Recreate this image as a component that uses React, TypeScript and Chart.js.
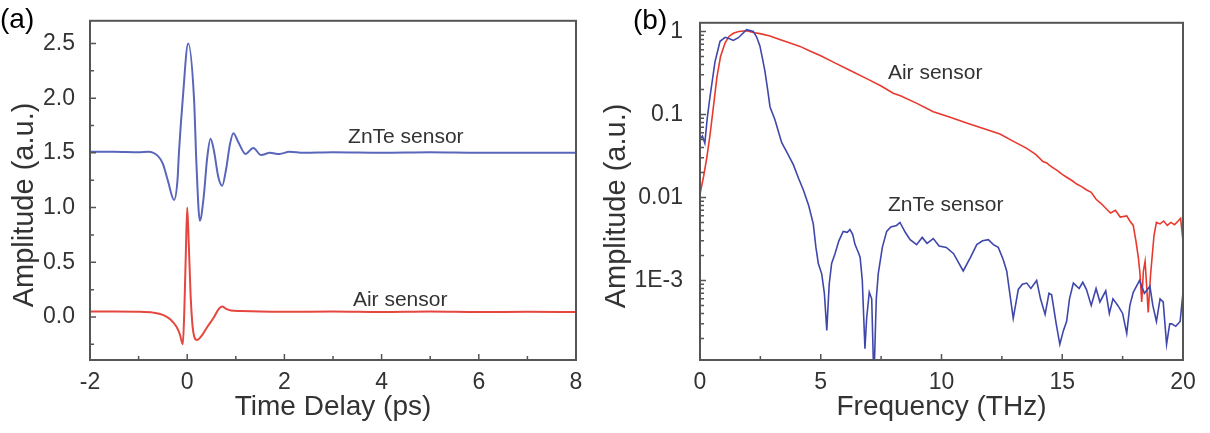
import React, { useEffect, useRef } from "react";
import { Chart, registerables } from "chart.js";
Chart.register(...registerables);

// ---------- Panel (a): time domain ----------
const znteTimeX = [-2, -1.5, -1.0, -0.8, -0.6, -0.5, -0.4, -0.27, -0.2, -0.17, -0.09, 0.02, 0.14, 0.19, 0.26, 0.34, 0.41, 0.48, 0.55, 0.64, 0.72, 0.8, 0.88, 0.95, 1.05, 1.2, 1.36, 1.52, 1.7, 1.9, 2.1, 2.4, 3, 4, 5, 6, 7, 8];
const znteTimeY = [1.51, 1.51, 1.505, 1.51, 1.47, 1.4, 1.25, 1.07, 1.25, 1.5, 2.0, 2.5, 2.0, 1.4, 0.88, 1.1, 1.45, 1.63, 1.52, 1.28, 1.2, 1.35, 1.58, 1.68, 1.6, 1.49, 1.545, 1.48, 1.5, 1.49, 1.51, 1.5, 1.505, 1.5, 1.505, 1.5, 1.5, 1.5];
const airTimeX = [-2, -1.5, -1.0, -0.7, -0.5, -0.35, -0.22, -0.15, -0.09, -0.06, -0.03, 0.0, 0.03, 0.07, 0.12, 0.2, 0.3, 0.4, 0.54, 0.65, 0.72, 0.8, 0.9, 1.1, 1.5, 2, 3, 4, 5, 6, 7, 8];
const airTimeY = [0.05, 0.05, 0.048, 0.04, 0.02, -0.02, -0.09, -0.16, -0.25, 0.05, 0.55, 1.0, 0.7, 0.2, -0.12, -0.21, -0.17, -0.1, -0.01, 0.075, 0.095, 0.075, 0.06, 0.055, 0.05, 0.048, 0.05, 0.045, 0.05, 0.045, 0.048, 0.045];
const timeTicks = [-2, 0, 2, 4, 6, 8];
const timeMinorTicks = [-1, 1, 3, 5, 7];
const ampTicks = [0, 0.5, 1.0, 1.5, 2.0, 2.5];
const ampMinorTicks = [-0.25, 0.25, 0.75, 1.25, 1.75, 2.25];

// ---------- Panel (b): frequency domain ----------
const airFreqX = [0, 0.15, 0.28, 0.41, 0.55, 0.7, 0.85, 1.04, 1.2, 1.38, 1.6, 1.93, 2.2, 2.48, 2.9, 3.3, 3.7, 4.14, 4.55, 5.0, 5.5, 6.2, 6.9, 7.5, 8.0, 8.3, 9.0, 9.66, 10.3, 11.04, 11.7, 12.42, 13.0, 13.53, 13.9, 14.2, 14.36, 14.5, 14.8, 15.0, 15.18, 15.4, 15.6, 15.8, 16.01, 16.2, 16.4, 16.6, 16.84, 17.0, 17.2, 17.4, 17.67, 17.8, 17.94, 18.05, 18.15, 18.22, 18.29, 18.36, 18.43, 18.5, 18.56, 18.65, 18.72, 18.8, 18.9, 19.05, 19.2, 19.35, 19.5, 19.65, 19.8, 19.9, 20.0];
const airFreqY = [0.011, 0.018, 0.03, 0.055, 0.12, 0.28, 0.5, 0.73, 0.87, 0.95, 1.0, 1.02, 0.97, 0.94, 0.88, 0.8, 0.73, 0.66, 0.58, 0.51, 0.43, 0.34, 0.27, 0.22, 0.18, 0.168, 0.135, 0.108, 0.094, 0.079, 0.068, 0.058, 0.047, 0.039, 0.033, 0.027, 0.026, 0.024, 0.021, 0.019, 0.0175, 0.016, 0.0145, 0.0135, 0.0123, 0.0115, 0.0095, 0.0085, 0.0072, 0.0065, 0.007, 0.0058, 0.006, 0.0052, 0.0046, 0.003, 0.0019, 0.0012, 0.00055, 0.0013, 0.0017, 0.0008, 0.00041, 0.0011, 0.0019, 0.0035, 0.005, 0.0048, 0.0052, 0.0046, 0.005, 0.0047, 0.0052, 0.0056, 0.003];
const znteFreqX = [0, 0.1, 0.2, 0.3, 0.41, 0.62, 0.83, 1.04, 1.2, 1.38, 1.59, 1.93, 2.21, 2.35, 2.48, 2.6, 2.69, 2.8, 2.9, 3.1, 3.38, 3.6, 3.86, 4.08, 4.28, 4.5, 4.69, 4.8, 4.9, 5.04, 5.15, 5.25, 5.35, 5.45, 5.59, 5.75, 5.93, 6.1, 6.21, 6.32, 6.42, 6.55, 6.63, 6.72, 6.83, 6.9, 7.01, 7.11, 7.2, 7.3, 7.38, 7.55, 7.73, 7.9, 8.14, 8.28, 8.5, 8.7, 8.97, 9.2, 9.4, 9.66, 9.9, 10.2, 10.5, 10.9, 11.2, 11.46, 11.7, 11.94, 12.15, 12.35, 12.55, 12.7, 12.97, 13.18, 13.35, 13.53, 13.7, 13.94, 14.1, 14.29, 14.45, 14.56, 14.75, 14.9, 15.05, 15.18, 15.3, 15.46, 15.7, 15.85, 16.0, 16.2, 16.4, 16.56, 16.8, 16.95, 17.1, 17.3, 17.5, 17.67, 17.8, 17.94, 18.2, 18.4, 18.63, 18.75, 18.9, 19.05, 19.18, 19.32, 19.45, 19.53, 19.7, 19.88, 19.99];
const znteFreqY = [0.05, 0.055, 0.045, 0.09, 0.16, 0.43, 0.76, 0.85, 0.82, 0.78, 0.84, 1.05, 1.0, 0.85, 0.67, 0.45, 0.33, 0.2, 0.123, 0.087, 0.046, 0.035, 0.025, 0.017, 0.0123, 0.008, 0.0048, 0.0025, 0.0016, 0.0012, 0.0007, 0.00025, 0.0009, 0.0016, 0.0021, 0.003, 0.0039, 0.0038, 0.0041, 0.0036, 0.0027, 0.0022, 0.0019, 0.001, 0.00015, 0.00035, 0.00072, 0.0006, 0.00006, 0.0006, 0.0012, 0.0025, 0.0039, 0.0044, 0.0046, 0.005, 0.0038, 0.0031, 0.0027, 0.0033, 0.0028, 0.0032, 0.0026, 0.0025, 0.0021, 0.0013, 0.0019, 0.0027, 0.003, 0.0031, 0.0027, 0.0025, 0.0018, 0.0013, 0.00035, 0.00078, 0.0009, 0.00093, 0.0008, 0.001, 0.0006, 0.00039, 0.0007, 0.00067, 0.0003, 0.00017, 0.00025, 0.00032, 0.0006, 0.00093, 0.0008, 0.00095, 0.00078, 0.0005, 0.0008, 0.00055, 0.00075, 0.0004, 0.0006, 0.0005, 0.0004, 0.00023, 0.0005, 0.00072, 0.001, 0.0007, 0.00085, 0.0005, 0.00032, 0.0006, 0.00055, 0.00017, 0.0003, 0.0003, 0.00028, 0.00032, 0.00067];
const freqTicks = [0, 5, 10, 15, 20];
const freqMinorTicks = [2.5, 7.5, 12.5, 17.5];
const logTicks = [0.001, 0.01, 0.1, 1];
const logTickLabels = ["1E-3", "0.01", "0.1", "1"];

const BLUE_A = "#5a66bb";
const RED_A = "#e5473f";
const BLUE_B = "#3f47ab";
const RED_B = "#e8392f";
const TEXT = "#333333";
const FONT = "'Liberation Sans', Arial, sans-serif";

function zip(xs: number[], ys: number[]) {
  return xs.map((x, i) => ({ x, y: ys[i] }));
}

function logMinor(min: number, max: number) {
  const out: number[] = [];
  for (let d = -5; d <= 1; d++) {
    for (let k = 2; k <= 9; k++) {
      const v = k * Math.pow(10, d);
      if (v > min && v < max) out.push(v);
    }
  }
  return out;
}

type Label = { text: string; x: number; y: number };

function decorPlugin(cfg: {
  xMajor: number[];
  xMinor: number[];
  yMajor: number[];
  yMinor: number[];
  labels: Label[];
  panel: { text: string; px: number; py: number };
  yTitle: { text: string; px: number; py: number };
}) {
  return {
    id: "decor",
    afterDraw(chart: any) {
      const { ctx, chartArea } = chart;
      const xs = chart.scales.x;
      const ys = chart.scales.y;
      const { left, right, top, bottom } = chartArea;
      ctx.save();
      ctx.strokeStyle = "#555555";
      ctx.lineWidth = 2;
      ctx.strokeRect(left, top, right - left, bottom - top);
      ctx.lineWidth = 1.5;
      ctx.beginPath();
      const drawX = (vals: number[], len: number) => {
        vals.forEach((v) => {
          const p = xs.getPixelForValue(v);
          ctx.moveTo(p, bottom);
          ctx.lineTo(p, bottom - len);
        });
      };
      const drawY = (vals: number[], len: number) => {
        vals.forEach((v) => {
          const p = ys.getPixelForValue(v);
          ctx.moveTo(left, p);
          ctx.lineTo(left + len, p);
        });
      };
      drawX(cfg.xMajor, 6);
      drawX(cfg.xMinor, 4);
      drawY(cfg.yMajor, 6);
      drawY(cfg.yMinor, 4);
      ctx.stroke();

      ctx.fillStyle = TEXT;
      ctx.font = `21px ${FONT}`;
      ctx.textAlign = "left";
      ctx.textBaseline = "middle";
      cfg.labels.forEach((l) => {
        ctx.fillText(l.text, xs.getPixelForValue(l.x), ys.getPixelForValue(l.y));
      });

      ctx.fillStyle = "#000";
      ctx.font = `28px ${FONT}`;
      ctx.textBaseline = "middle";
      ctx.fillText(cfg.panel.text, cfg.panel.px, cfg.panel.py);

      ctx.fillStyle = TEXT;
      ctx.font = `29px ${FONT}`;
      ctx.translate(cfg.yTitle.px, cfg.yTitle.py);
      ctx.rotate(-Math.PI / 2);
      ctx.textAlign = "center";
      ctx.textBaseline = "middle";
      ctx.fillText(cfg.yTitle.text, 0, 0);
      ctx.restore();
    },
  };
}

const xTickOpts = { color: TEXT, font: { size: 23, family: FONT }, padding: 1, maxRotation: 0, callback: (v: any) => String(v) };

function PanelA() {
  const ref = useRef<HTMLCanvasElement>(null);
  useEffect(() => {
    const chart = new Chart(ref.current!, {
      type: "line",
      data: {
        datasets: [
          {
            label: "ZnTe sensor",
            data: zip(znteTimeX, znteTimeY),
            borderColor: BLUE_A,
            borderWidth: 2,
            pointRadius: 0,
            cubicInterpolationMode: "monotone",
          },
          {
            label: "Air sensor",
            data: zip(airTimeX, airTimeY),
            borderColor: RED_A,
            borderWidth: 2,
            pointRadius: 0,
            cubicInterpolationMode: "monotone",
          },
        ],
      },
      options: {
        animation: false,
        responsive: false,
        layout: { padding: { top: 5, right: 24, left: 0, bottom: 0 } },
        plugins: { legend: { display: false }, tooltip: { enabled: false } },
        scales: {
          x: {
            type: "linear",
            min: -2,
            max: 8,
            afterBuildTicks: (s: any) => {
              s.ticks = timeTicks.map((v) => ({ value: v }));
            },
            afterFit: (s: any) => {
              s.height = 73;
            },
            grid: { display: false },
            border: { display: false },
            ticks: xTickOpts,
            title: { display: true, text: "Time Delay (ps)", color: TEXT, font: { size: 28, family: FONT }, padding: { top: 0, bottom: 9 } },
          },
          y: {
            type: "linear",
            min: -0.393,
            max: 2.707,
            afterBuildTicks: (s: any) => {
              s.ticks = ampTicks.map((v) => ({ value: v }));
            },
            afterFit: (s: any) => {
              s.width = 90;
            },
            grid: { display: false },
            border: { display: false },
            ticks: { color: TEXT, font: { size: 23, family: FONT }, padding: 7, callback: (v: any) => Number(v).toFixed(1) },
          },
        },
      },
      plugins: [
        decorPlugin({
          xMajor: timeTicks,
          xMinor: timeMinorTicks,
          yMajor: ampTicks,
          yMinor: ampMinorTicks,
          labels: [
            { text: "ZnTe sensor", x: 3.31, y: 1.64 },
            { text: "Air sensor", x: 3.41, y: 0.15 },
          ],
          panel: { text: "(a)", px: 0, py: 20 },
          yTitle: { text: "Amplitude (a.u.)", px: 25, py: 205 },
        }),
      ],
    } as any);
    return () => chart.destroy();
  }, []);
  return <canvas ref={ref} width={600} height={433} />;
}

function PanelB() {
  const ref = useRef<HTMLCanvasElement>(null);
  useEffect(() => {
    const yMin = 1.1e-4;
    const yMax = 1.27;
    const chart = new Chart(ref.current!, {
      type: "line",
      data: {
        datasets: [
          {
            label: "ZnTe sensor",
            data: zip(znteFreqX, znteFreqY),
            borderColor: BLUE_B,
            borderWidth: 1.6,
            pointRadius: 0,
            tension: 0,
          },
          {
            label: "Air sensor",
            data: zip(airFreqX, airFreqY),
            borderColor: RED_B,
            borderWidth: 1.6,
            pointRadius: 0,
            tension: 0,
          },
        ],
      },
      options: {
        animation: false,
        responsive: false,
        layout: { padding: { top: 9, right: 27, left: 0, bottom: 0 } },
        plugins: { legend: { display: false }, tooltip: { enabled: false } },
        scales: {
          x: {
            type: "linear",
            min: 0,
            max: 20,
            afterBuildTicks: (s: any) => {
              s.ticks = freqTicks.map((v) => ({ value: v }));
            },
            afterFit: (s: any) => {
              s.height = 73;
            },
            grid: { display: false },
            border: { display: false },
            ticks: xTickOpts,
            title: { display: true, text: "Frequency (THz)", color: TEXT, font: { size: 28, family: FONT }, padding: { top: 0, bottom: 9 } },
          },
          y: {
            type: "logarithmic",
            min: yMin,
            max: yMax,
            afterBuildTicks: (s: any) => {
              s.ticks = logTicks.map((v) => ({ value: v }));
            },
            afterFit: (s: any) => {
              s.width = 100;
            },
            grid: { display: false },
            border: { display: false },
            ticks: {
              color: TEXT,
              font: { size: 23, family: FONT },
              padding: 9,
              callback: (v: any) => {
                const i = logTicks.findIndex((t) => Math.abs(Math.log10(t) - Math.log10(Number(v))) < 1e-6);
                return i >= 0 ? logTickLabels[i] : "";
              },
            },
          },
        },
      },
      plugins: [
        decorPlugin({
          xMajor: freqTicks,
          xMinor: freqMinorTicks,
          yMajor: logTicks,
          yMinor: logMinor(yMin, yMax),
          labels: [
            { text: "Air sensor", x: 7.78, y: 0.318 },
            { text: "ZnTe sensor", x: 7.78, y: 0.0081 },
          ],
          panel: { text: "(b)", px: 33, py: 21 },
          yTitle: { text: "Amplitude (a.u.)", px: 17, py: 206 },
        }),
      ],
    } as any);
    return () => chart.destroy();
  }, []);
  return <canvas ref={ref} width={610} height={433} />;
}

export default function App() {
  return (
    <div style={{ position: "absolute", left: 0, top: 0, width: 1210, height: 433, background: "#fff" }}>
      <div style={{ position: "absolute", left: 0, top: 0 }}>
        <PanelA />
      </div>
      <div style={{ position: "absolute", left: 600, top: 0 }}>
        <PanelB />
      </div>
    </div>
  );
}
